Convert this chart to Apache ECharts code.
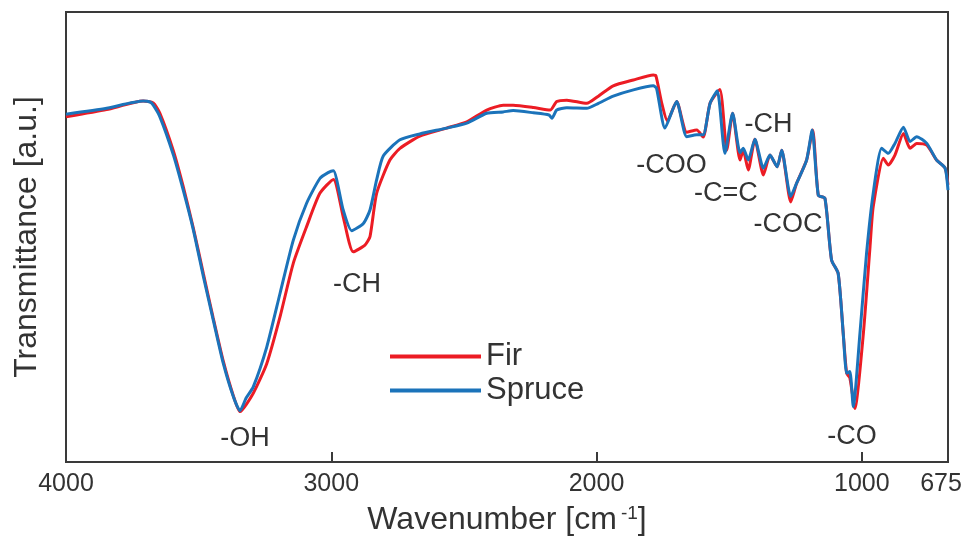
<!DOCTYPE html>
<html>
<head>
<meta charset="utf-8">
<script src="https://cdn.jsdelivr.net/npm/echarts@6/dist/echarts.min.js"></script>
<style>html,body{margin:0;padding:0;background:#fff}#c{width:966px;height:538px}</style>
</head>
<body>
<div id="c"></div>
<script>
// ---- Data ----
const firWavenumbers = [4000,3847,3709,3671,3646,3596,3558,3520,3482,3445,3407,3369,3344,3294,3243,3193,3143,3093,3043,2992,2955,2917,2873,2854,2829,2779,2741,2666,2565,2489,2414,2352,2314,2238,2175,2150,2112,2037,1993,1937,1861,1786,1776,1754,1733,1698,1660,1622,1598,1572,1535,1509,1487,1459,1447,1428,1403,1371,1346,1319,1302,1268,1246,1208,1185,1164,1139,1114,1089,1070,1057,1045,1026,994,969,957,919,900,875,843,818,793,755,718,686,675];
const firTransmittance = [76.7,78.3,80.2,79.8,77.5,69.3,61.2,52.0,41.8,32.0,22.4,14.7,11.2,15.3,21.9,32.3,44.2,52.3,59.7,62.8,54.5,46.7,48.2,50.1,59.7,67.1,69.7,72.4,74.2,75.6,78.2,79.3,79.3,78.8,78.2,80.1,80.4,79.7,81.3,83.6,84.9,86.0,85.8,79.7,75.8,80.1,73.3,73.8,72.2,79.7,82.8,69.3,77.5,67.1,69.3,64.9,71.7,63.8,68.2,65.6,69.3,57.8,61.9,67.1,73.8,59.3,58.6,44.9,41.9,28.6,19.7,18.7,11.9,28.6,47.8,56.7,67.5,66.0,68.2,73.0,69.7,70.8,70.4,67.1,65.3,61.6];

const spruceWavenumbers = [4000,3847,3709,3683,3671,3646,3595,3558,3520,3482,3445,3407,3369,3344,3321,3294,3243,3193,3143,3093,3043,3012,2992,2955,2923,2879,2854,2829,2804,2741,2666,2565,2489,2414,2352,2314,2238,2179,2168,2150,2112,2037,1993,1937,1861,1786,1774,1742,1698,1660,1622,1598,1572,1545,1516,1487,1459,1447,1428,1403,1371,1346,1319,1302,1268,1246,1208,1187,1164,1139,1114,1089,1070,1057,1045,1032,1007,982,957,925,900,875,843,818,793,755,718,686,675];
const spruceTransmittance = [77.3,78.6,80.2,80.0,79.3,76.7,68.2,60.4,51.6,41.2,31.6,21.9,14.5,11.4,14.2,16.7,25.6,37.5,49.3,57.5,63.0,64.3,64.7,56.0,51.4,53.0,56.0,62.7,68.0,71.6,72.9,74.2,75.3,77.5,77.8,78.1,77.6,77.1,76.4,78.2,78.7,78.6,79.7,81.3,82.7,83.6,83.1,74.2,80.1,72.3,72.7,72.7,79.7,82.5,68.6,77.5,68.7,69.7,67.1,71.7,65.3,68.2,65.6,69.3,59.0,61.9,67.1,73.8,59.3,58.6,44.9,41.9,28.6,19.7,20.1,12.3,28.6,46.4,59.7,69.7,68.6,70.8,74.4,71.2,72.3,70.8,67.1,65.3,60.4];

const xTickLabels = [4000, 3000, 2000, 1000, 675];
const xTickMarks = [3000, 2000, 1000];

const annotationLabels = ['-OH', '-CH', '-COO', '-C=C', '-CH', '-COC', '-CO'];
const annotationWavenumbers = [3325, 2903, 1717, 1512, 1352, 1278, 1037];
const annotationValues = [5.3, 39.5, 65.8, 59.6, 75.1, 52.7, 5.6];

// ---- Chart ----
const FONT = "'Liberation Sans', Arial, sans-serif";
const TEXT = '#333333';
const AXIS = '#3a3a3a';

function pairs(xs, ys) { return xs.map((x, i) => [x, ys[i]]); }

const chart = echarts.init(document.getElementById('c'), null, { renderer: 'canvas' });
chart.setOption({
  animation: false,
  backgroundColor: '#ffffff',
  textStyle: { fontFamily: FONT },
  grid: { left: 66, right: 18, top: 12, bottom: 76, outerBoundsMode: 'none', containLabel: false, show: true, borderColor: AXIS, borderWidth: 2, backgroundColor: 'transparent' },
  legend: {
    data: ['Fir', 'Spruce'],
    orient: 'vertical',
    left: 385, top: 336,
    icon: 'rect', itemWidth: 91, itemHeight: 4, itemGap: 3,
    textStyle: { fontSize: 31, color: TEXT, fontFamily: FONT }
  },
  xAxis: {
    type: 'value', inverse: true, min: 675, max: 4000,
    name: 'Wavenumber [cm{sup|-1}]',
    nameLocation: 'middle', nameGap: 42,
    nameTextStyle: {
      fontSize: 32, color: TEXT, fontFamily: FONT,
      rich: { sup: { fontSize: 19, color: TEXT, fontFamily: FONT, verticalAlign: 'top', padding: [0, 0, 9, 4] } }
    },
    axisLine: { show: true, lineStyle: { color: AXIS, width: 2 } },
    axisTick: { show: true, inside: true, length: 10, customValues: xTickMarks, lineStyle: { color: AXIS, width: 2 } },
    axisLabel: {
      show: true, customValues: xTickLabels, margin: 10, fontSize: 25, color: TEXT, fontFamily: FONT,
      formatter: v => v === 675 ? '{r|675}' : String(v),
      rich: { r: { fontSize: 25, color: TEXT, fontFamily: FONT, padding: [0, 14, 0, 0] } }
    },
    splitLine: { show: false }
  },
  yAxis: {
    type: 'value', min: 0, max: 100,
    name: 'Transmittance [a.u.]',
    nameLocation: 'middle', nameGap: 23,
    nameTextStyle: { fontSize: 32, color: TEXT, fontFamily: FONT },
    axisLine: { show: true, lineStyle: { color: AXIS, width: 2 } },
    axisTick: { show: false },
    axisLabel: { show: false },
    splitLine: { show: false }
  },
  series: [
    {
      name: 'Fir', type: 'line', data: pairs(firWavenumbers, firTransmittance),
      showSymbol: false, smooth: 0.2,
      lineStyle: { color: '#ec1c24', width: 3 }, itemStyle: { color: '#ec1c24' }, z: 3
    },
    {
      name: 'Spruce', type: 'line', data: pairs(spruceWavenumbers, spruceTransmittance),
      showSymbol: false, smooth: 0.2,
      lineStyle: { color: '#1b73ba', width: 3 }, itemStyle: { color: '#1b73ba' }, z: 4
    },
    {
      name: 'labels', type: 'scatter', silent: true,
      data: annotationWavenumbers.map((x, i) => ({ value: [x, annotationValues[i]], name: annotationLabels[i] })),
      symbolSize: 0, itemStyle: { color: TEXT, opacity: 1 },
      label: { show: true, position: [0, 0], align: 'center', verticalAlign: 'middle', formatter: p => p.name, fontSize: 27, color: TEXT, opacity: 1, fontFamily: FONT },
      z: 5
    }
  ]
});
</script>
</body>
</html>
